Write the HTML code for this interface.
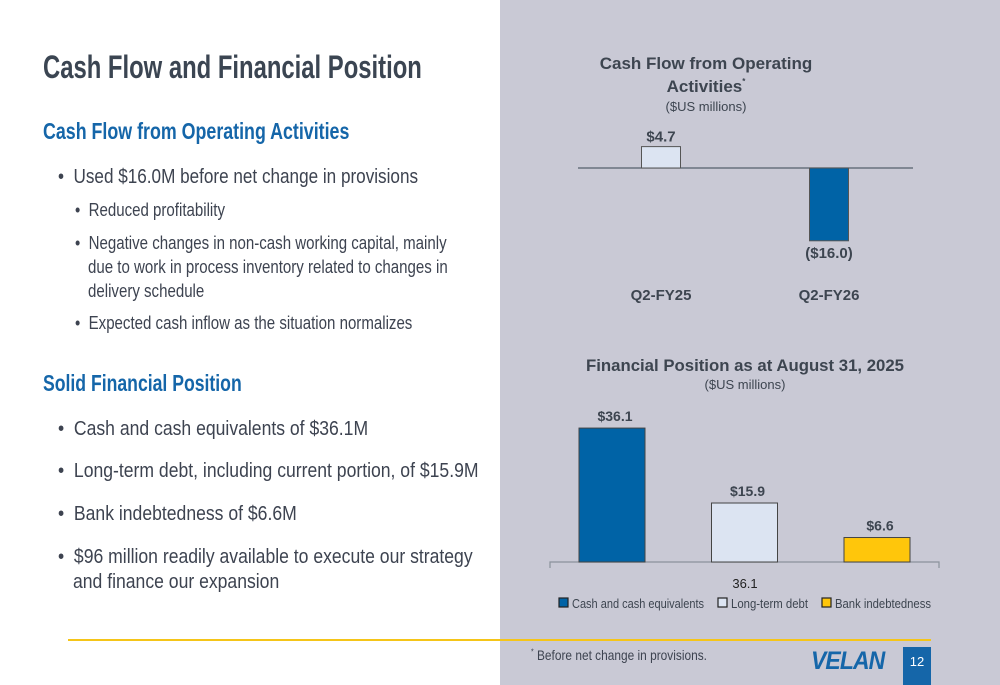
<!DOCTYPE html>
<html><head><meta charset="utf-8">
<style>
body{margin:0;width:1000px;height:685px;overflow:hidden;background:#fff;font-family:"Liberation Sans",sans-serif;position:relative}
.t{position:absolute;white-space:nowrap;transform-origin:0 50%;line-height:1}
.ti{transform:scaleX(0.745)}
.h{transform:scaleX(0.775)}
.b1{transform:scaleX(0.856)}
.s{transform:scaleX(0.836)}
.b{transform:scaleX(0.879)}
#right{position:absolute;left:500px;top:0;width:500px;height:685px;background:#c9c9d5}
</style></head><body>
<div id="right"></div>

<div class="t ti" style="left:43px;top:51px;font-size:32px;font-weight:bold;color:#3b4552">Cash Flow and Financial Position</div>
<div class="t h" style="left:43px;top:120px;font-size:23px;font-weight:bold;color:#1566a9">Cash Flow from Operating Activities</div>
<div class="t b1" style="left:58px;top:167px;font-size:20px;color:#3d4350">•&nbsp; Used $16.0M before net change in provisions</div>
<div class="t s" style="left:75px;top:201px;font-size:18px;color:#3d4350">•&nbsp; Reduced profitability</div>
<div class="t s" style="left:75px;top:234px;font-size:18px;color:#3d4350">•&nbsp; Negative changes in non-cash working capital, mainly</div>
<div class="t s" style="left:88px;top:258px;font-size:18px;color:#3d4350">due to work in process inventory related to changes in</div>
<div class="t s" style="left:88px;top:282px;font-size:18px;color:#3d4350">delivery schedule</div>
<div class="t s" style="left:75px;top:314px;font-size:18px;color:#3d4350">•&nbsp; Expected cash inflow as the situation normalizes</div>

<div class="t h" style="left:43px;top:372px;font-size:23px;font-weight:bold;color:#1566a9;transform:scaleX(0.766)">Solid Financial Position</div>
<div class="t b" style="left:58px;top:419px;font-size:20px;color:#3d4350">•&nbsp; Cash and cash equivalents of $36.1M</div>
<div class="t b" style="left:58px;top:461px;font-size:20px;color:#3d4350">•&nbsp; Long-term debt, including current portion, of $15.9M</div>
<div class="t b" style="left:58px;top:504px;font-size:20px;color:#3d4350">•&nbsp; Bank indebtedness of $6.6M</div>
<div class="t b" style="left:58px;top:547px;font-size:20px;color:#3d4350">•&nbsp; $96 million readily available to execute our strategy</div>
<div class="t b" style="left:73px;top:572px;font-size:20px;color:#3d4350">and finance our expansion</div>

<div style="position:absolute;left:68px;top:639px;width:863px;height:2px;background:#f5c518"></div>
<div class="t" style="left:531px;top:648px;font-size:14px;color:#3d4350;transform:scaleX(0.85)"><sup style="font-size:8px">*</sup> Before net change in provisions.</div>
<div class="t" style="left:811px;top:649px;font-size:25px;font-weight:bold;font-style:italic;color:#1566a9;letter-spacing:-1px;transform:scaleX(0.92)">VELAN</div>
<div style="position:absolute;left:903px;top:647px;width:28px;height:38px;background:#1566a9;color:#fff;font-size:13px;text-align:center;line-height:30px">12</div>

<svg id="c1" width="1000" height="685" style="position:absolute;left:0;top:0">
<text x="706" y="69" text-anchor="middle" font-size="17" font-weight="bold" fill="#3d4550">Cash Flow from Operating</text>
<text x="706" y="92" text-anchor="middle" font-size="17" font-weight="bold" fill="#3d4550">Activities<tspan font-size="8" dy="-8">*</tspan></text>
<text x="706" y="111" text-anchor="middle" font-size="13" fill="#3d4550">($US millions)</text>
<text x="745" y="371" text-anchor="middle" font-size="17" font-weight="bold" fill="#3d4550" textLength="318" lengthAdjust="spacingAndGlyphs">Financial Position as at August 31, 2025</text>
<text x="745" y="389" text-anchor="middle" font-size="13" fill="#3d4550">($US millions)</text>
</svg>

<script>
const cfCategories=["Q2-FY25","Q2-FY26"];
const cfValues=[4.7,-16.0];
const cfLabels=["$4.7","($16.0)"];
const fpCategories=["Cash and cash equivalents","Long-term debt","Bank indebtedness"];
const fpValues=[36.1,15.9,6.6];
const fpLabels=["$36.1","$15.9","$6.6"];
const NS="http://www.w3.org/2000/svg";
const svg=document.getElementById('c1');
function mk(tag,attrs,parent){const e=document.createElementNS(NS,tag);for(const k in attrs)e.setAttribute(k,attrs[k]);(parent||svg).appendChild(e);return e;}
// chart 1
const cfZero=168, cfScale=4.55;
const cfY=v=>cfZero-v*cfScale;
const cfX=i=>661+i*168;
const cfFill=["#dce4f2","#0063a6"];
let ax1=mk('line',{x1:578,x2:913,y1:cfZero,y2:cfZero,stroke:'#55606c','stroke-width':1.2});


cfValues.forEach((v,i)=>{
  const y0=Math.min(cfY(v),cfZero),h=Math.abs(cfY(v)-cfZero);
  const r=mk('rect',{x:cfX(i)-19.5,y:y0,width:39,height:h,fill:cfFill[i],stroke:'#555','stroke-width':1});
  
  
  const ly=v>=0?cfY(v)-5:cfY(v)+17;
  const t=mk('text',{x:cfX(i),y:ly,'text-anchor':'middle','font-size':15,'font-weight':'bold',fill:'#3d4550'});
  t.textContent=cfLabels[i];
  
  
  const c=mk('text',{x:cfX(i),y:300,'text-anchor':'middle','font-size':15,'font-weight':'bold',fill:'#3d4550'});
  c.textContent=cfCategories[i];
  
  
});
// chart 2
const fpZero=562, fpScale=3.71;
const fpY=v=>fpZero-v*fpScale;
const fpX=i=>612+i*132.5;
const fpFill=["#0063a6","#dce4f2","#ffc60b"];
let ax2=mk('path',{d:`M550 568 V${fpZero} H939 V568`,stroke:'#8a929c','stroke-width':1.2,fill:'none'});


fpValues.forEach((v,i)=>{
  const r=mk('rect',{x:fpX(i)-33,y:fpY(v),width:66,height:fpZero-fpY(v),fill:fpFill[i],stroke:'#444','stroke-width':1});
  
  
  const t=mk('text',{x:fpX(i)+3,y:fpY(v)-7,'text-anchor':'middle','font-size':14,'font-weight':'bold',fill:'#3d4550'});
  t.textContent=fpLabels[i];
  
  
});
const cat=mk('text',{x:745,y:588,'text-anchor':'middle','font-size':13,fill:'#222'});
cat.textContent=String(fpValues[0]);


const legX=[559,718,822];
const legW=[132,77,96];
fpCategories.forEach((n,i)=>{
  const s=mk('rect',{x:legX[i],y:598,width:9,height:9,fill:fpFill[i],stroke:'#222','stroke-width':1.2});
  
  
  const t=mk('text',{x:legX[i]+13,y:608,'font-size':13,fill:'#3d4550',textLength:legW[i],lengthAdjust:'spacingAndGlyphs'});
  t.textContent=n;
  
  
});
</script>
</body></html>
